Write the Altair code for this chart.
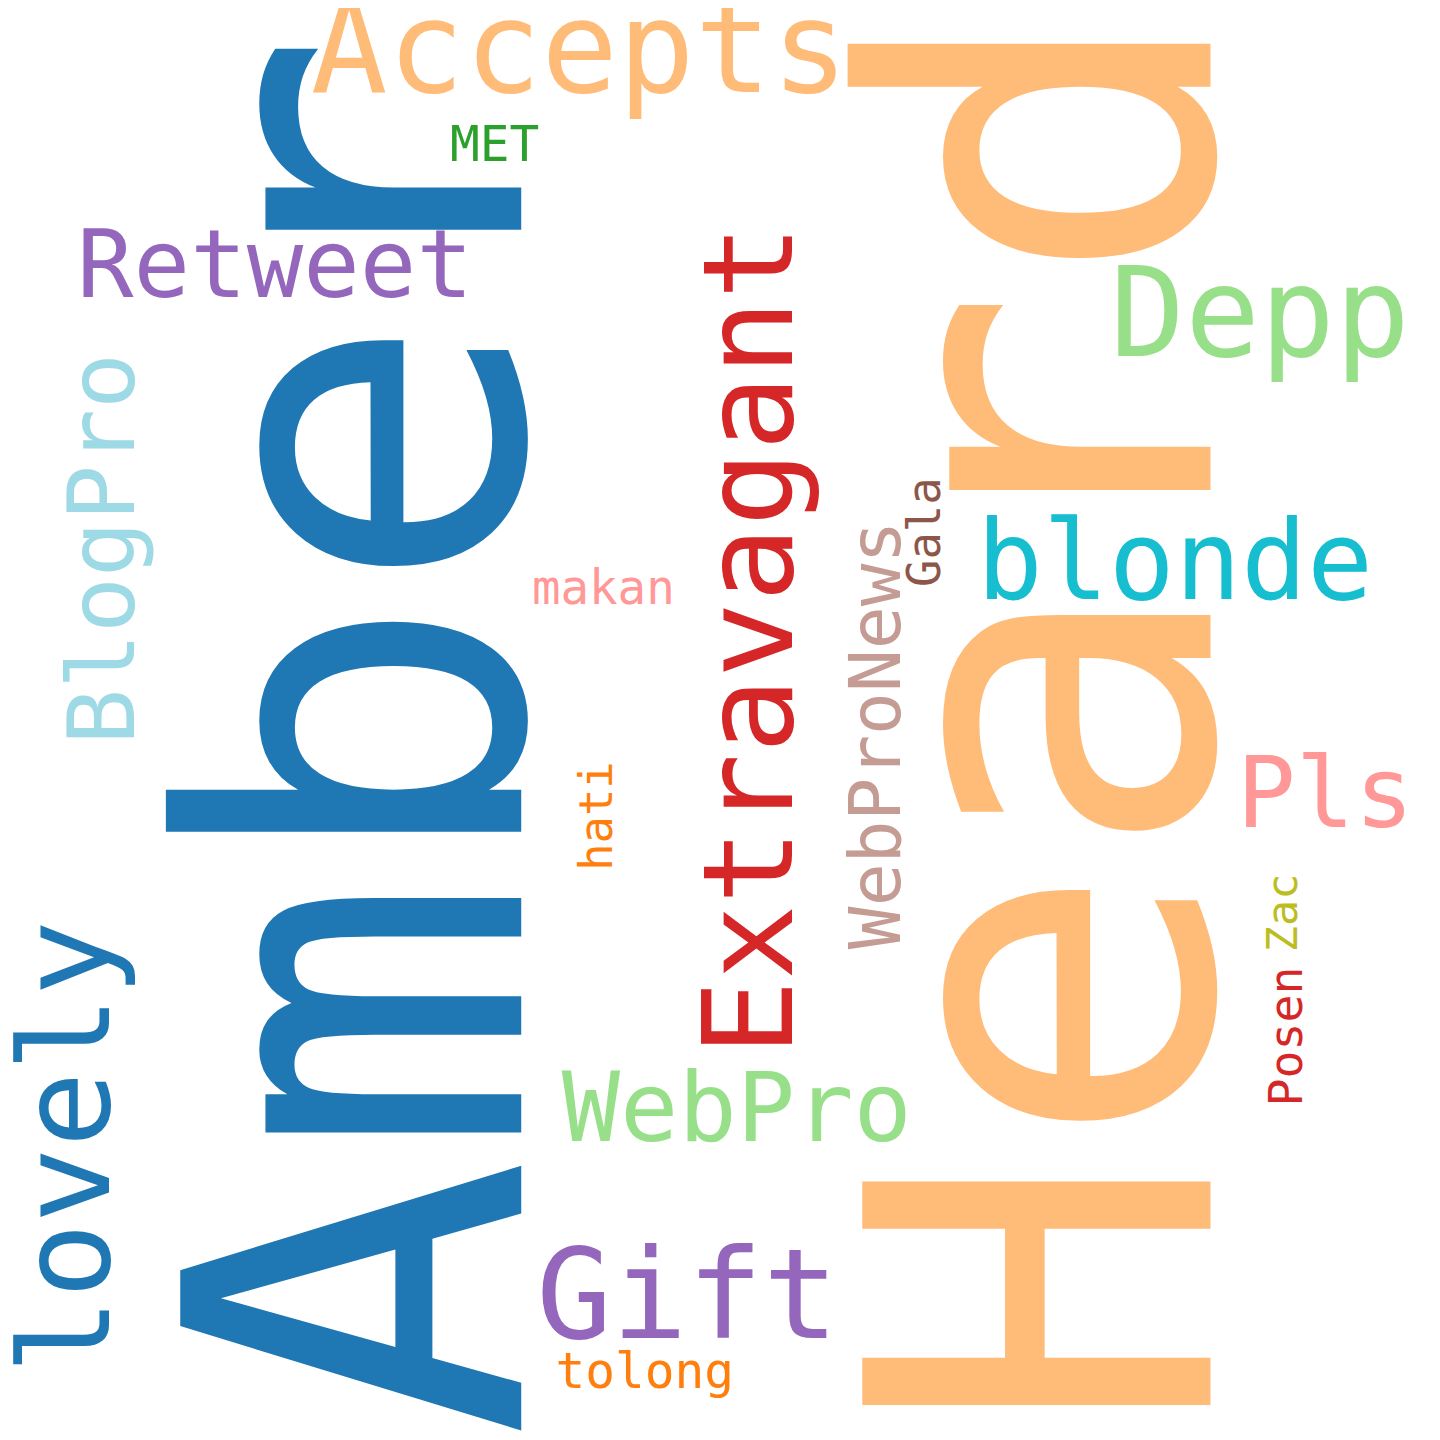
import altair as alt
import pandas as pd

words = ["Amber", "Heard", "Accepts", "MET", "Retweet", "Extravagant", "Depp", "BlogPro",
         "blonde", "Gala", "WebProNews", "makan", "Pls", "hati", "lovely", "WebPro",
         "Zac", "Posen", "Gift", "tolong"]
xs = [527, 1224, 586, 500, 278, 801, 1274, 135, 1188, 950, 910, 610, 1340, 619, 110, 745, 1311, 1317, 695, 652]
ys = [735, 718, 85, 155, 292, 639, 352, 547, 598, 530, 735, 603, 828, 817, 1152, 1146, 915, 1040, 1345, 1395]
sizes = [473, 483, 129, 50, 95, 127, 126, 94, 111, 46, 72, 48, 99, 46, 127, 98, 44, 47, 127, 50]
angles = [270, 270, 0, 0, 0, 270, 0, 270, 0, 270, 270, 0, 0, 270, 270, 0, 270, 270, 0, 0]
colors = ["#1f77b4", "#ffbb78", "#ffbb78", "#2ca02c", "#9467bd", "#d62728", "#98df8a", "#9edae5",
          "#17becf", "#8c564b", "#c49c94", "#ff9896", "#ff9896", "#ff7f0e", "#1f77b4", "#98df8a",
          "#bcbd22", "#d62728", "#9467bd", "#ff7f0e"]

df = pd.DataFrame({"word": words, "x": xs, "y": ys, "size": sizes, "angle": angles, "color": colors})

chart = alt.Chart(df).mark_text(
    font="DejaVu Sans Mono", align="center", baseline="alphabetic"
).encode(
    x=alt.X("x:Q", scale=alt.Scale(domain=[8, 1448], range=[0, 1440]), axis=None),
    y=alt.Y("y:Q", scale=alt.Scale(domain=[8, 1448], range=[0, 1440]), axis=None),
    text="word:N",
    size=alt.Size("size:Q", scale=None, legend=None),
    angle=alt.Angle("angle:Q", scale=None),
    color=alt.Color("color:N", scale=None, legend=None),
).properties(
    width=1440, height=1440, autosize=alt.AutoSizeParams(type="none"), padding=0, background="white"
).configure_view(stroke=None)

chart.save("out.html", embed_options={"renderer": "svg", "actions": False})
